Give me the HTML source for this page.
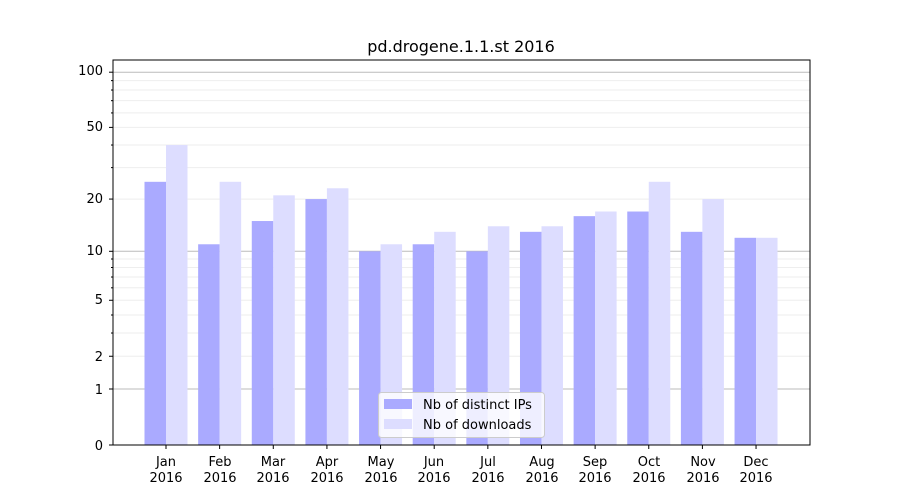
<!DOCTYPE html>
<html><head><meta charset="utf-8"><style>body{margin:0;background:#fff}svg{display:block;font-family:"DejaVu Sans","Liberation Sans",sans-serif}</style></head>
<body>
<svg id="s" width="900" height="500" xmlns="http://www.w3.org/2000/svg">
<rect width="900" height="500" fill="#fff"/>
<g id="grid"></g>
<g id="bars"></g>
<rect x="113" y="60" width="697" height="385" fill="none" stroke="#000" stroke-width="1"/>
<text x="461" y="52" font-size="16" text-anchor="middle">pd.drogene.1.1.st 2016</text>
<g font-size="13" text-anchor="end">
<text x="103" y="75">100</text><text x="103" y="131">50</text><text x="103" y="203">20</text><text x="103" y="255">10</text><text x="103" y="304">5</text><text x="103" y="361">2</text><text x="103" y="394">1</text><text x="103" y="450">0</text>
</g>
<g font-size="13" text-anchor="middle" id="xl">
<text x="166" y="466">Jan</text><text x="166" y="482">2016</text>
<text x="220" y="466">Feb</text><text x="220" y="482">2016</text>
<text x="273" y="466">Mar</text><text x="273" y="482">2016</text>
<text x="327" y="466">Apr</text><text x="327" y="482">2016</text>
<text x="381" y="466">May</text><text x="381" y="482">2016</text>
<text x="434" y="466">Jun</text><text x="434" y="482">2016</text>
<text x="488" y="466">Jul</text><text x="488" y="482">2016</text>
<text x="542" y="466">Aug</text><text x="542" y="482">2016</text>
<text x="595" y="466">Sep</text><text x="595" y="482">2016</text>
<text x="649" y="466">Oct</text><text x="649" y="482">2016</text>
<text x="703" y="466">Nov</text><text x="703" y="482">2016</text>
<text x="756" y="466">Dec</text><text x="756" y="482">2016</text>
</g>
<g id="ticks"></g>
<rect x="378.5" y="392.5" width="166" height="45" rx="3" fill="#fff" fill-opacity="0.8" stroke="#ccc"/>
<rect x="384" y="399" width="28" height="10" fill="#aaaaff"/>
<rect x="384" y="419" width="28" height="10" fill="#ddddff"/>
<text x="423" y="409" font-size="13">Nb of distinct IPs</text>
<text x="423" y="429" font-size="13">Nb of downloads</text>
</svg>
<script>
var NS="http://www.w3.org/2000/svg";
function Y(v){return 445-186*Math.log10(1+v);}
function el(p,t,a){var e=document.createElementNS(NS,t);for(var k in a)e.setAttribute(k,a[k]);p.appendChild(e);return e;}
var g=document.getElementById('grid'),b=document.getElementById('bars'),tk=document.getElementById('ticks');
var minors=[2,3,4,5,6,7,8,9,20,30,40,50,60,70,80,90];
minors.forEach(function(v){var y=Y(v);el(g,'line',{x1:113,x2:810,y1:y,y2:y,stroke:'#eee','stroke-width':1});});
[1,10,100].forEach(function(v){var y=Y(v);el(g,'line',{x1:113,x2:810,y1:y,y2:y,stroke:'#bbb','stroke-width':1});});
var ip=[25,11,15,20,10,11,10,13,16,17,13,12],dl=[40,25,21,23,11,13,14,14,17,25,20,12];
for(var i=0;i<12;i++){var c=166+i*53.64;
el(b,'rect',{x:c-21.5,y:Y(ip[i]),width:21.5,height:445-Y(ip[i]),fill:'#aaaaff'});
el(b,'rect',{x:c,y:Y(dl[i]),width:21.5,height:445-Y(dl[i]),fill:'#ddddff'});
el(tk,'line',{x1:c,x2:c,y1:445,y2:449,stroke:'#000'});}
[0,1,2,5,10,20,50,100].forEach(function(v){var y=Y(v);el(tk,'line',{x1:109,x2:113,y1:y,y2:y,stroke:'#000'});});
minors.forEach(function(v){if([2,5,20,50].indexOf(v)<0){var y=Y(v);el(tk,'line',{x1:111,x2:113,y1:y,y2:y,stroke:'#000'});}});
</script>
</body></html>
